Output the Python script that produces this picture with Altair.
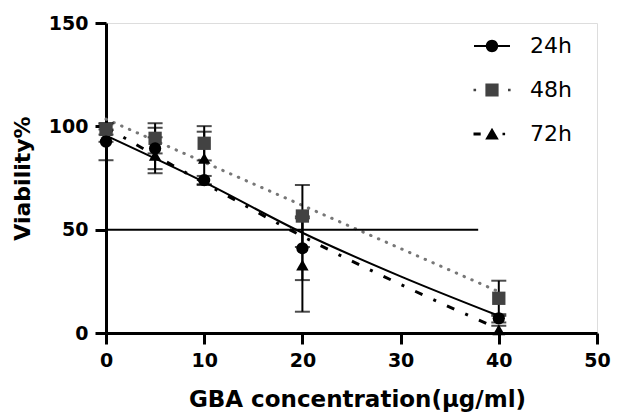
import altair as alt
import pandas as pd

# ---- data ----
series = ["24h", "48h", "72h"]
conc = [0, 5, 10, 20, 40]

v24 = [92.6, 89.3, 74.0, 41.0, 7.1]
e24 = [9.0, 10.0, 2.0, 15.4, 2.0]
v48 = [98.5, 94.2, 91.8, 56.6, 16.8]
e48 = [2.5, 7.3, 8.3, 15.0, 8.5]
v72 = [95.5, 86.0, 84.5, 32.9, 1.5]
e72 = [3.0, 8.7, 12.9, 22.6, 2.0]

fit24_x = [0, 10, 20, 30, 40]
fit24_y = [95.5, 73.0, 48.5, 27.4, 8.3]
fit48_x = [0, 40]
fit48_y = [103.5, 20.0]
fit72_x = [0, 10, 20, 30, 40]
fit72_y = [99.5, 72.6, 46.8, 23.5, 2.0]

ic50_x = [0]
ic50_x2 = [37.9]
ic50_y = [50]

x_ticks = [0, 10, 20, 30, 40, 50]
y_ticks = [0, 50, 100, 150]

# ---- tables ----
pts = pd.DataFrame({
    "series": ["24h"] * 5 + ["48h"] * 5 + ["72h"] * 5,
    "conc": conc * 3,
    "v": v24 + v48 + v72,
    "e": e24 + e48 + e72,
})
fit24 = pd.DataFrame({"conc": fit24_x, "v": fit24_y})
fit48 = pd.DataFrame({"conc": fit48_x, "v": fit48_y})
fit72 = pd.DataFrame({"conc": fit72_x, "v": fit72_y})
ic50 = pd.DataFrame({"x": ic50_x, "x2": ic50_x2, "y": ic50_y})
leg = pd.DataFrame({"series": series})

FONT = "DejaVu Sans"

xscale = alt.Scale(domain=[0, 50], nice=False, zero=False)
yscale = alt.Scale(domain=[0, 150], nice=False)

xaxis = alt.Axis(values=x_ticks, format="d", grid=False, labelFlush=False, labelOverlap=False,
                 domainColor="black", domainWidth=3, tickColor="black", tickWidth=3, tickSize=11,
                 labelFont=FONT, labelFontWeight="bold", labelFontSize=19, labelColor="black",
                 labelPadding=7,
                 title="GBA concentration(μg/ml)", titleFont=FONT, titleFontWeight="bold",
                 titleFontSize=23, titleColor="black", titleX=251, titleY=73,
                 titleBaseline="alphabetic", titleAlign="center")
yaxis = alt.Axis(values=y_ticks, format="d", grid=False, labelFlush=False, labelOverlap=False,
                 domainColor="black", domainWidth=3, tickColor="black", tickWidth=3, tickSize=11,
                 labelFont=FONT, labelFontWeight="bold", labelFontSize=19, labelColor="black",
                 labelPadding=7,
                 title="Viability%", titleFont=FONT, titleFontWeight="bold",
                 titleFontSize=22, titleColor="black", titleX=-77, titleY=155,
                 titleBaseline="alphabetic", titleAlign="center", titleAngle=270)

X = alt.X("conc:Q", scale=xscale, axis=xaxis)
Y = alt.Y("v:Q", scale=yscale, axis=yaxis)

line24 = alt.Chart(fit24).mark_line(color="black", strokeWidth=2, interpolate="monotone").encode(x=X, y=Y)
line48 = alt.Chart(fit48).mark_line(color="#777777", strokeWidth=3, strokeDash=[0.5, 8],
                                    strokeCap="round").encode(x=X, y=Y)
line72 = alt.Chart(fit72).mark_line(color="black", strokeWidth=3, strokeDash=[8, 12, 3, 12],
                                    interpolate="monotone").encode(x=X, y=Y)

hline = alt.Chart(ic50).mark_rule(color="black", strokeWidth=2).encode(
    x=alt.X("x:Q", scale=xscale, axis=xaxis), x2="x2:Q", y=alt.Y("y:Q", scale=yscale, axis=yaxis))

base = alt.Chart(pts).transform_calculate(lo="datum.v - datum.e", hi="datum.v + datum.e")
bars = base.mark_rule(color="black", strokeWidth=2).encode(
    x=X, y=alt.Y("lo:Q", scale=yscale, axis=yaxis), y2="hi:Q")
cap_lo = base.mark_tick(color="black", orient="horizontal", size=15, thickness=2).encode(
    x=X, y=alt.Y("lo:Q", scale=yscale, axis=yaxis))
cap_hi = base.mark_tick(color="black", orient="horizontal", size=15, thickness=2).encode(
    x=X, y=alt.Y("hi:Q", scale=yscale, axis=yaxis))

p72 = alt.Chart(pts).transform_filter("datum.series == '72h'").mark_point(
    filled=True, shape="triangle-up", size=155, color="black", opacity=1).encode(x=X, y=Y)
p48 = alt.Chart(pts).transform_filter("datum.series == '48h'").mark_point(
    filled=True, shape="square", size=177, color="#424242", opacity=1).encode(x=X, y=Y)
p24 = alt.Chart(pts).transform_filter("datum.series == '24h'").mark_point(
    filled=True, shape="circle", size=150, color="black", opacity=1).encode(x=X, y=Y)

# legend symbols: line + marker as filled custom paths (unit = 10 px at size 400)
path24 = ("M-1.8,-0.11H-0.5V0.11H-1.8Z"
          "M0.5,-0.11H1.8V0.11H0.5Z"
          "M0.62,0A0.62,0.62,0,1,1,-0.62,0A0.62,0.62,0,1,1,0.62,0Z")
path48 = ("M-1.85,-0.13h0.26v0.26h-0.26Z"
          "M-0.66,-0.66h1.32v1.32h-1.32Z"
          "M1.6,-0.13h0.26v0.26h-0.26Z")
path72 = ("M-1.85,-0.14h0.72v0.28h-0.72Z"
          "M0,-0.62L0.68,0.56L-0.68,0.56Z"
          "M1.05,-0.13h0.26v0.26h-0.26Z")

legend_def = alt.Legend(title=None, orient="none", legendX=375, legendY=12, symbolSize=400,
                        labelFont=FONT, labelFontSize=22, labelColor="black", labelOffset=27,
                        rowPadding=22, padding=0)
legend_layer = alt.Chart(leg).mark_point(filled=True, clip=True, size=400, opacity=1).encode(
    x=alt.value(-300), y=alt.value(-300),
    shape=alt.Shape("series:N", scale=alt.Scale(domain=series, range=[path24, path48, path72]),
                    legend=legend_def),
    color=alt.Color("series:N", scale=alt.Scale(domain=series, range=["black", "#424242", "black"]),
                    legend=legend_def),
)

chart = alt.layer(line24, line48, line72, hline, bars, cap_lo, cap_hi, p72, p48, p24, legend_layer).properties(
    width=491, height=310,
    autosize=alt.AutoSizeParams(type="none"),
    padding={"left": 98, "top": 15, "right": 15, "bottom": 82},
).configure_view(stroke=None).configure(background="white")

chart.save("out.html", embed_options={"renderer": "svg", "actions": False})
